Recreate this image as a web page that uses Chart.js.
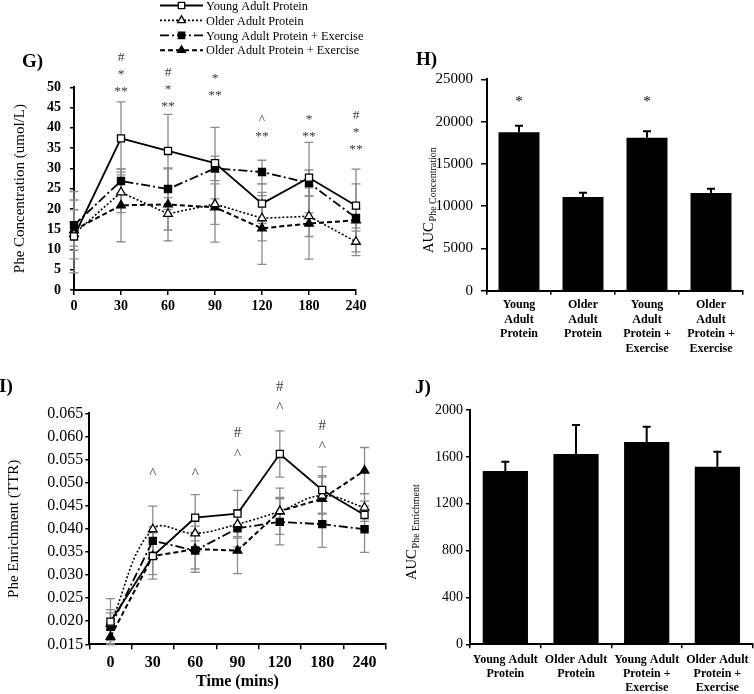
<!DOCTYPE html>
<html lang="en">
<head>
  <meta charset="UTF-8">
  <title>Phe concentration and enrichment</title>
  <script src="https://cdn.jsdelivr.net/npm/chart.js"></script>
  <style>
    body { margin: 0; background: #fff; width: 754px; height: 694px; position: relative; overflow: hidden; }
    .panel { position: absolute; }
  </style>
</head>
<body>

  <div class="panel" style="left:0;top:0"><canvas id="chartG" width="380" height="330"></canvas></div>
  <div class="panel" style="left:380px;top:0"><canvas id="chartH" width="374" height="360"></canvas></div>
  <div class="panel" style="left:0;top:360px"><canvas id="chartI" width="392" height="334"></canvas></div>
  <div class="panel" style="left:380px;top:360px"><canvas id="chartJ" width="374" height="334"></canvas></div>

  <script>
    const FONT = '"Liberation Serif", "Times New Roman", serif';
    Chart.defaults.font.family = FONT;
    Chart.defaults.color = '#000';

    // ---- data ----
    const timeLabels = ['0', '30', '60', '90', '120', '180', '240'];
    const seriesNames = ['Young Adult Protein', 'Older Adult Protein', 'Young Adult Protein + Exercise', 'Older Adult Protein + Exercise'];

    // G) Phe concentration (umol/L)
    const concYoung   = [13.2, 37.4, 34.3, 31.3, 21.3, 27.7, 20.8];
    const concOlder   = [13.8, 24.1, 18.8, 21.2, 17.7, 18.2, 11.9];
    const concYoungEx = [16.0, 26.9, 24.9, 30.0, 29.1, 26.4, 17.8];
    const concOlderEx = [14.8, 20.9, 21.1, 20.4, 15.2, 16.4, 17.2];
    const concYoungErr   = [9.0, 9.0, 9.0, 8.8, 4.9, 8.7, 9.0];
    const concOlderErr   = [3.0, 5.0, 4.0, 5.0, 5.6, 5.0, 3.4];
    const concYoungExErr = [8.3, 3.0, 5.0, 3.0, 2.9, 3.2, 8.4];
    const concOlderExErr = [5.0, 9.0, 9.0, 8.6, 8.9, 8.8, 2.7];
    const concMarks = [[], ['#', '*', '**'], ['#', '*', '**'], ['*', '**'], ['^', '**'], ['*', '**'], ['#', '*', '**']];
    const concMarkBase = [null, 48.1, 44.5, 47.2, 37.0, 37.1, 33.7];

    // I) Phe enrichment (TTR)
    const enrYoung   = [0.0199, 0.0341, 0.0424, 0.0433, 0.0562, 0.0484, 0.0430];
    const enrOlder   = [0.0195, 0.0399, 0.0390, 0.0410, 0.0438, 0.0472, 0.0446];
    const enrYoungEx = [0.0188, 0.0374, 0.0353, 0.0401, 0.0415, 0.0410, 0.0399];
    const enrOlderEx = [0.0166, 0.0341, 0.0356, 0.0353, 0.0438, 0.0465, 0.0526];
    const enrYoungErr   = [0.005, 0.005, 0.005, 0.005, 0.005, 0.005, 0.003];
    const enrOlderErr   = [0.003, 0.005, 0.003, 0.003, 0.003, 0.004, 0.003];
    const enrYoungExErr = [0.003, 0.003, 0.004, 0.004, 0.005, 0.005, 0.005];
    const enrOlderExErr = [0.0015, 0.004, 0.005, 0.005, 0.005, 0.005, 0.005];
    const enrMarks = [[], ['^'], ['^'], ['#', '^'], ['#', '^'], ['#', '^'], []];
    const enrMarkBase = [null, 0.0509, 0.0509, 0.0552, 0.0652, 0.0568, null];

    // H) and J) areas under the curve
    const groupLabelsH = [['Young', 'Adult', 'Protein'], ['Older', 'Adult', 'Protein'], ['Young', 'Adult', 'Protein +', 'Exercise'], ['Older', 'Adult', 'Protein +', 'Exercise']];
    const groupLabelsJ = [['Young Adult', 'Protein'], ['Older Adult', 'Protein'], ['Young Adult', 'Protein +', 'Exercise'], ['Older Adult', 'Protein +', 'Exercise']];
    const aucConc    = [18730, 11080, 18100, 11550];
    const aucConcErr = [790, 500, 750, 520];
    const aucConcMarks = [['*'], [], ['*'], []];
    const aucConcMarkBase = [21900, null, 21900, null];
    const aucEnr    = [1479, 1624, 1727, 1516];
    const aucEnrErr = [80, 248, 131, 128];

    // ---- line looks, one per series ----
    const lineLooks = [
      { dash: [], width: 1.8, point: 'rect', fill: '#fff' },
      { dash: [2, 2], width: 1.6, point: 'triangle', fill: '#fff' },
      { dash: [9, 3, 2, 3], width: 1.8, point: 'rect', fill: '#000' },
      { dash: [5, 3], width: 2, point: 'triangle', fill: '#000' }
    ];

    function lineSets(values, errors, smoothOlder) {
      return values.map((v, i) => ({
        label: seriesNames[i],
        data: v,
        errorBars: errors[i],
        borderColor: '#000',
        borderWidth: lineLooks[i].width,
        borderDash: lineLooks[i].dash,
        pointStyle: lineLooks[i].point,
        pointRadius: 5,
        pointBackgroundColor: lineLooks[i].fill,
        pointBorderColor: '#000',
        pointBorderWidth: 1.3,
        tension: (smoothOlder && i === 1) ? 0.4 : 0,
        fill: false
      }));
    }

    // ---- plugins ----
    function drawErrorBars(chart, opts) {
      const ctx = chart.ctx;
      const y = chart.scales.y;
      ctx.save();
      ctx.strokeStyle = opts.color;
      ctx.lineWidth = opts.width;
      chart.data.datasets.forEach((ds, i) => {
        if (!ds.errorBars) return;
        chart.getDatasetMeta(i).data.forEach((el, j) => {
          const v = ds.data[j], e = ds.errorBars[j];
          const top = y.getPixelForValue(v + e);
          const bot = opts.upperOnly ? el.y : y.getPixelForValue(v - e);
          ctx.beginPath();
          ctx.moveTo(el.x, top); ctx.lineTo(el.x, bot);
          ctx.moveTo(el.x - opts.cap, top); ctx.lineTo(el.x + opts.cap, top);
          if (!opts.upperOnly) { ctx.moveTo(el.x - opts.cap, bot); ctx.lineTo(el.x + opts.cap, bot); }
          ctx.stroke();
        });
      });
      ctx.restore();
    }

    const errorBars = {
      id: 'errorBars',
      defaults: { color: '#000', width: 1.5, cap: 4, upperOnly: false, onTop: false },
      beforeDatasetsDraw(chart, args, opts) { if (!opts.onTop) drawErrorBars(chart, opts); },
      afterDatasetsDraw(chart, args, opts) { if (opts.onTop) drawErrorBars(chart, opts); }
    };

    // significance marks, panel letters, AUC axis titles
    const notes = {
      id: 'notes',
      afterDraw(chart, args, opts) {
        const ctx = chart.ctx;
        ctx.save();
        if (opts.marks) {
          const m = opts.marks;
          ctx.font = m.size + 'px ' + FONT;
          ctx.fillStyle = m.color;
          ctx.textAlign = 'center';
          ctx.textBaseline = 'alphabetic';
          m.symbols.forEach((list, i) => {
            if (m.base[i] == null) return;
            const x = chart.scales.x.getPixelForValue(i);
            const yb = chart.scales.y.getPixelForValue(m.base[i]);
            list.slice().reverse().forEach((s, k) => ctx.fillText(s, x, yb - k * m.gap));
          });
        }
        (opts.texts || []).forEach(t => {
          ctx.font = t.font;
          ctx.fillStyle = '#000';
          ctx.textAlign = 'left';
          ctx.textBaseline = 'alphabetic';
          ctx.fillText(t.text, t.x, t.y);
        });
        if (opts.auc) {
          const a = opts.auc;
          ctx.translate(a.x, a.bottom);
          ctx.rotate(-Math.PI / 2);
          ctx.fillStyle = '#000';
          ctx.textAlign = 'left';
          ctx.textBaseline = 'alphabetic';
          ctx.font = a.size + 'px ' + FONT;
          ctx.fillText('AUC', 0, 0);
          const w = ctx.measureText('AUC').width;
          ctx.font = a.subSize + 'px ' + FONT;
          ctx.fillText(a.sub, w + 1, 3);
        }
        ctx.restore();
      }
    };

    const sampleLegend = {
      id: 'sampleLegend',
      afterDraw(chart, args, opts) {
        if (!opts.show) return;
        const ctx = chart.ctx;
        chart.data.datasets.forEach((ds, i) => {
          const y = opts.top + i * opts.rowGap;
          ctx.save();
          ctx.strokeStyle = '#000';
          ctx.lineWidth = ds.borderWidth;
          ctx.setLineDash(ds.borderDash);
          ctx.beginPath(); ctx.moveTo(opts.x0, y); ctx.lineTo(opts.x1, y); ctx.stroke();
          ctx.setLineDash([]);
          ctx.fillStyle = ds.pointBackgroundColor;
          ctx.lineWidth = ds.pointBorderWidth;
          Chart.helpers.drawPoint(ctx, { pointStyle: ds.pointStyle, radius: 4.5, borderWidth: ds.pointBorderWidth, rotation: 0 }, (opts.x0 + opts.x1) / 2, y);
          ctx.fillStyle = '#000';
          ctx.font = opts.size + 'px ' + FONT;
          ctx.textBaseline = 'middle';
          ctx.fillText(ds.label, opts.x1 + 3, y + 1);
          ctx.restore();
        });
      }
    };

    Chart.register(errorBars, notes, sampleLegend);

    const tickGrid = len => ({ drawOnChartArea: false, drawTicks: true, tickLength: len, color: '#000', lineWidth: 1.5 });
    const axisLine = { color: '#000', width: 2 };
    const base = { responsive: false, animation: false, devicePixelRatio: 1 };
    const plain = v => String(v);

    // ---- G) ----
    new Chart(document.getElementById('chartG'), {
      type: 'line',
      data: {
        labels: timeLabels,
        datasets: lineSets([concYoung, concOlder, concYoungEx, concOlderEx],
                           [concYoungErr, concOlderErr, concYoungExErr, concOlderExErr], false)
      },
      options: {
        ...base,
        layout: { padding: { top: 87.3, right: 24, left: 0, bottom: 0 } },
        plugins: {
          legend: { display: false },
          tooltip: { enabled: false },
          errorBars: { color: '#8c8c8c', width: 1.3, cap: 4.5 },
          sampleLegend: { show: true, x0: 160, x1: 203, top: 5.5, rowGap: 14.9, size: 12.3 },
          notes: {
            marks: { symbols: concMarks, base: concMarkBase, gap: 17, size: 13.5, color: '#3a3a3a' },
            texts: [{ text: 'G)', x: 22, y: 67, font: 'bold 19px ' + FONT }]
          }
        },
        scales: {
          x: {
            type: 'category', offset: false,
            grid: tickGrid(5), border: axisLine,
            ticks: { font: { size: 14, weight: 'bold' }, padding: 3, autoSkip: false, maxRotation: 0 },
            afterFit: s => { s.height = 40; }
          },
          y: {
            min: 0, max: 50,
            grid: tickGrid(4), border: axisLine,
            ticks: { stepSize: 5, font: { size: 14, weight: 'bold' }, padding: 9, callback: plain },
            title: { display: true, text: 'Phe Concentration (umol/L)', font: { size: 15 }, padding: { top: 11, bottom: 0 } },
            afterFit: s => { s.width = 74; }
          }
        }
      }
    });

    // ---- H) ----
    new Chart(document.getElementById('chartH'), {
      type: 'bar',
      data: {
        labels: groupLabelsH,
        datasets: [{ data: aucConc, errorBars: aucConcErr, backgroundColor: '#000', barPercentage: 0.64, categoryPercentage: 1 }]
      },
      options: {
        ...base,
        layout: { padding: { top: 79.3, right: 11, left: 0, bottom: 0 } },
        plugins: {
          legend: { display: false },
          tooltip: { enabled: false },
          errorBars: { color: '#000', width: 2, cap: 4, upperOnly: true, onTop: true },
          notes: {
            marks: { symbols: aucConcMarks, base: aucConcMarkBase, gap: 17, size: 15, color: '#000' },
            texts: [{ text: 'H)', x: 36, y: 65, font: 'bold 19px ' + FONT }],
            auc: { x: 53, bottom: 253, size: 14.5, subSize: 10, sub: 'Phe Concentration' }
          }
        },
        scales: {
          x: {
            grid: { ...tickGrid(4), offset: true }, border: axisLine,
            ticks: { font: { size: 12, weight: 'bold', lineHeight: 1.22 }, padding: 3, autoSkip: false, maxRotation: 0 },
            afterFit: s => { s.height = 69.3; }
          },
          y: {
            min: 0, max: 25000,
            grid: tickGrid(6), border: axisLine,
            ticks: { stepSize: 5000, font: { size: 15 }, padding: 8, callback: plain },
            afterFit: s => { s.width = 107; }
          }
        }
      }
    });

    // ---- I) ----
    new Chart(document.getElementById('chartI'), {
      type: 'line',
      data: {
        labels: timeLabels,
        datasets: lineSets([enrYoung, enrOlder, enrYoungEx, enrOlderEx],
                           [enrYoungErr, enrOlderErr, enrYoungExErr, enrOlderExErr], true)
      },
      options: {
        ...base,
        layout: { padding: { top: 53.3, right: 6.3, left: 0, bottom: 0 } },
        plugins: {
          legend: { display: false },
          tooltip: { enabled: false },
          errorBars: { color: '#8c8c8c', width: 1.3, cap: 4.5 },
          notes: {
            marks: { symbols: enrMarks, base: enrMarkBase, gap: 21.5, size: 15, color: '#3a3a3a' },
            texts: [{ text: 'I)', x: -1, y: 32, font: 'bold 19px ' + FONT }]
          }
        },
        scales: {
          x: {
            type: 'category', offset: true,
            grid: { ...tickGrid(5), offset: true }, border: axisLine,
            ticks: { font: { size: 16, weight: 'bold' }, padding: 4, autoSkip: false, maxRotation: 0 },
            title: { display: true, text: 'Time (mins)', font: { size: 16, weight: 'bold' }, padding: { top: 0, bottom: 2.7 } },
            afterFit: s => { s.height = 49.7; }
          },
          y: {
            min: 0.015, max: 0.065,
            grid: tickGrid(4), border: axisLine,
            ticks: { stepSize: 0.005, font: { size: 16 }, padding: 2, callback: v => Number(v).toFixed(3) },
            title: { display: true, text: 'Phe Enrichment (TTR)', font: { size: 15 }, padding: { top: 5, bottom: 0 } },
            afterFit: s => { s.width = 89.3; }
          }
        }
      }
    });

    // ---- J) ----
    new Chart(document.getElementById('chartJ'), {
      type: 'bar',
      data: {
        labels: groupLabelsJ,
        datasets: [{ data: aucEnr, errorBars: aucEnrErr, backgroundColor: '#000', barPercentage: 0.64, categoryPercentage: 1 }]
      },
      options: {
        ...base,
        layout: { padding: { top: 50, right: 1.3, left: 0, bottom: 0 } },
        plugins: {
          legend: { display: false },
          tooltip: { enabled: false },
          errorBars: { color: '#000', width: 2, cap: 4, upperOnly: true, onTop: true },
          notes: {
            texts: [{ text: 'J)', x: 35, y: 33, font: 'bold 19px ' + FONT }],
            auc: { x: 36, bottom: 220, size: 14.5, subSize: 10, sub: 'Phe Enrichment' }
          }
        },
        scales: {
          x: {
            grid: { ...tickGrid(4), offset: true }, border: axisLine,
            ticks: { font: { size: 12, weight: 'bold', lineHeight: 1.2 }, padding: 4, autoSkip: false, maxRotation: 0 },
            afterFit: s => { s.height = 49.7; }
          },
          y: {
            min: 0, max: 2000,
            grid: tickGrid(4), border: axisLine,
            ticks: { stepSize: 400, font: { size: 14 }, padding: 3, callback: plain },
            afterFit: s => { s.width = 90; }
          }
        }
      }
    });
  </script>

</body>
</html>
